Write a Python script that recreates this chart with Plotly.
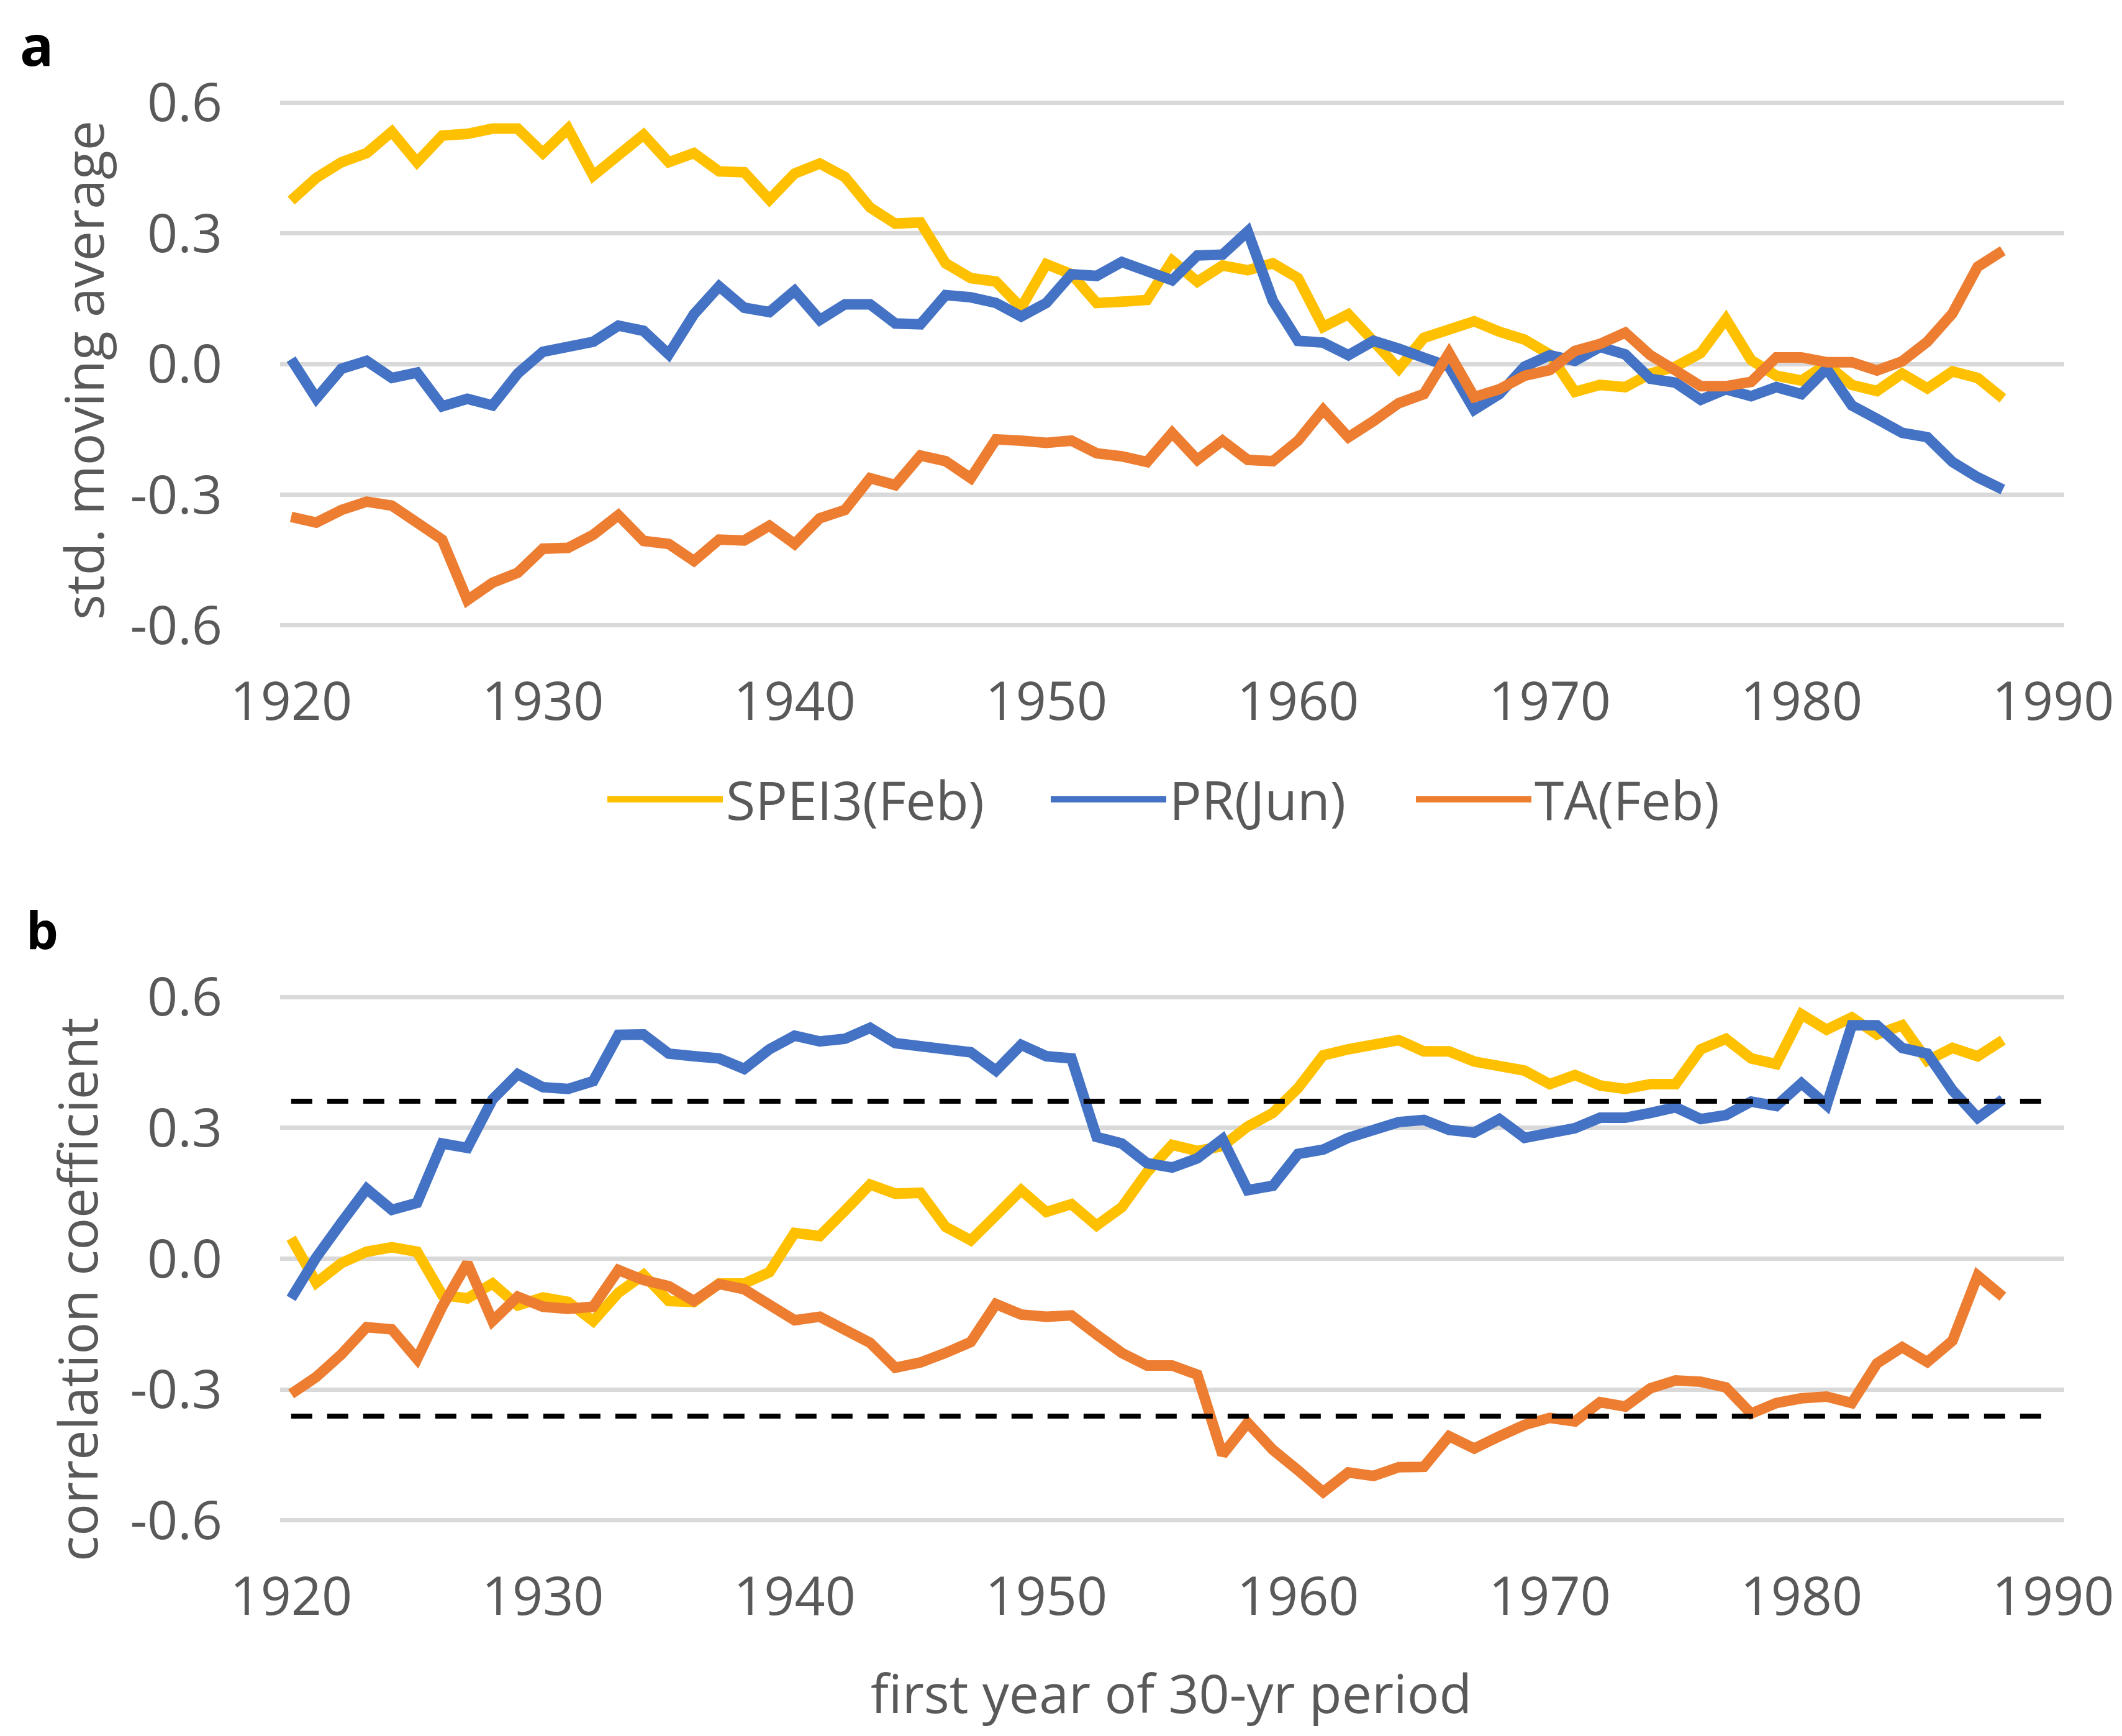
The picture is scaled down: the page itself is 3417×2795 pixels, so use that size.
import plotly.graph_objects as go

# first year of each 30-yr window
years = list(range(1920, 1989))

# panel a: standardised moving averages
spei3_feb_a = [0.375, 0.427, 0.463, 0.484, 0.533, 0.463, 0.524, 0.528, 0.54, 0.54,
               0.484, 0.54, 0.432, 0.479, 0.526, 0.463, 0.484, 0.442, 0.44, 0.377,
               0.437, 0.46, 0.429, 0.359, 0.322, 0.325, 0.231, 0.197, 0.189, 0.129,
               0.229, 0.206, 0.14, 0.143, 0.147, 0.237, 0.189, 0.226, 0.215, 0.231,
               0.197, 0.085, 0.114, 0.052, -0.011, 0.06, 0.08, 0.098, 0.074, 0.056,
               0.022, -0.064, -0.048, -0.053, -0.022, -0.006, 0.025, 0.103, 0.009, -0.027,
               -0.038, -0.001, -0.048, -0.062, -0.022, -0.056, -0.017, -0.032, -0.079]
pr_jun_a = [0.011, -0.079, -0.011, 0.007, -0.032, -0.02, -0.097, -0.08, -0.095, -0.022,
            0.028, 0.039, 0.051, 0.088, 0.076, 0.022, 0.114, 0.178, 0.129, 0.119,
            0.168, 0.101, 0.137, 0.137, 0.093, 0.091, 0.158, 0.153, 0.14, 0.109,
            0.14, 0.206, 0.202, 0.234, 0.213, 0.192, 0.249, 0.251, 0.304, 0.145,
            0.053, 0.049, 0.02, 0.053, 0.035, 0.015, -0.006, -0.105, -0.069, -0.006,
            0.02, 0.007, 0.039, 0.022, -0.034, -0.043, -0.082, -0.058, -0.074, -0.053,
            -0.069, -0.011, -0.095, -0.126, -0.158, -0.168, -0.225, -0.26, -0.288]
ta_feb_a = [-0.351, -0.364, -0.335, -0.316, -0.325, -0.366, -0.403, -0.542, -0.502, -0.479,
            -0.424, -0.422, -0.392, -0.347, -0.406, -0.413, -0.452, -0.403, -0.405, -0.371,
            -0.413, -0.354, -0.335, -0.262, -0.278, -0.21, -0.223, -0.262, -0.173, -0.176,
            -0.181, -0.176, -0.205, -0.212, -0.225, -0.158, -0.22, -0.176, -0.22, -0.223,
            -0.176, -0.105, -0.168, -0.131, -0.09, -0.069, 0.025, -0.076, -0.058, -0.027,
            -0.014, 0.03, 0.046, 0.072, 0.02, -0.015, -0.051, -0.051, -0.041, 0.015,
            0.015, 0.004, 0.004, -0.015, 0.006, 0.051, 0.116, 0.223, 0.26]

# panel b: running correlation coefficients
spei3_feb_b = [0.047, -0.055, -0.01, 0.016, 0.026, 0.016, -0.083, -0.091, -0.057, -0.107,
               -0.089, -0.099, -0.143, -0.078, -0.037, -0.097, -0.099, -0.057, -0.057, -0.031,
               0.059, 0.052, 0.11, 0.17, 0.149, 0.151, 0.073, 0.042, 0.099, 0.157,
               0.107, 0.125, 0.076, 0.118, 0.198, 0.261, 0.247, 0.258, 0.303, 0.334,
               0.391, 0.466, 0.48, 0.49, 0.501, 0.475, 0.475, 0.452, 0.441, 0.431,
               0.4, 0.421, 0.397, 0.389, 0.4, 0.4, 0.48, 0.504, 0.459, 0.446,
               0.56, 0.525, 0.553, 0.514, 0.535, 0.454, 0.483, 0.464, 0.501]
pr_jun_b = [-0.091, 0.003, 0.083, 0.16, 0.112, 0.128, 0.264, 0.254, 0.365, 0.423,
            0.393, 0.389, 0.407, 0.513, 0.514, 0.47, 0.464, 0.459, 0.435, 0.48,
            0.511, 0.498, 0.504, 0.529, 0.494, 0.487, 0.48, 0.473, 0.431, 0.49,
            0.464, 0.459, 0.279, 0.264, 0.219, 0.209, 0.23, 0.274, 0.157, 0.167,
            0.24, 0.25, 0.277, 0.292, 0.313, 0.318, 0.295, 0.289, 0.32, 0.277,
            0.285, 0.299, 0.323, 0.323, 0.334, 0.347, 0.32, 0.329, 0.36, 0.35,
            0.402, 0.352, 0.535, 0.535, 0.483, 0.47, 0.386, 0.323, 0.365]
ta_feb_b = [-0.31, -0.271, -0.219, -0.157, -0.162, -0.23, -0.11, -0.01, -0.143, -0.087,
            -0.11, -0.115, -0.11, -0.026, -0.049, -0.063, -0.097, -0.058, -0.07, -0.104,
            -0.141, -0.133, -0.164, -0.193, -0.25, -0.238, -0.216, -0.191, -0.104, -0.128,
            -0.133, -0.13, -0.174, -0.216, -0.245, -0.245, -0.266, -0.449, -0.376, -0.438,
            -0.485, -0.535, -0.49, -0.498, -0.478, -0.477, -0.407, -0.435, -0.407, -0.381,
            -0.365, -0.373, -0.329, -0.339, -0.297, -0.279, -0.282, -0.295, -0.355, -0.331,
            -0.32, -0.316, -0.331, -0.24, -0.203, -0.237, -0.188, -0.039, -0.087]

# significance threshold (p = 0.05, n = 30)
r_crit = 0.361
crit_x = [1920, 1990]

y_tickvals = [-0.6, -0.3, 0.0, 0.3, 0.6]
y_ticktext = ["-0.6", "-0.3", "0.0", "0.3", "0.6"]
x_tickvals = [1920, 1930, 1940, 1950, 1960, 1970, 1980, 1990]

names = ["SPEI3(Feb)", "PR(Jun)", "TA(Feb)"]
colors = ["#FFC000", "#4472C4", "#ED7D31"]

W, H = 3417, 2795
FONT = "Open Sans"
GREY = "#595959"
LW = 17

fig = go.Figure()

legend_ids = ["legend", "legend2", "legend3"]
for name, col, ya, lg in zip(names, colors, [spei3_feb_a, pr_jun_a, ta_feb_a], legend_ids):
    fig.add_trace(go.Scatter(x=years, y=ya, mode="lines", name=name,
                             line=dict(color=col, width=LW), legend=lg,
                             xaxis="x", yaxis="y"))

for name, col, yb in zip(names, colors, [spei3_feb_b, pr_jun_b, ta_feb_b]):
    fig.add_trace(go.Scatter(x=years, y=yb, mode="lines", name=name,
                             line=dict(color=col, width=LW), showlegend=False,
                             xaxis="x2", yaxis="y2"))

for level in [r_crit, -r_crit]:
    fig.add_trace(go.Scatter(x=crit_x, y=[level, level], mode="lines",
                             line=dict(color="black", width=8, dash="34px,24px"),
                             showlegend=False, hoverinfo="skip",
                             xaxis="x2", yaxis="y2"))

xdom = [443 / W, 3316 / W]
xr = [1919.56, 1990.44]
yr = [-0.61, 0.61]

xcommon = dict(range=xr, domain=xdom, tickvals=x_tickvals, showgrid=False,
               zeroline=False, showline=False, ticks="", ticklabelstandoff=58,
               tickfont=dict(family=FONT, size=86, color=GREY), automargin=False)
ycommon = dict(range=yr, tickvals=y_tickvals, ticktext=y_ticktext,
               showgrid=True, gridcolor="#D9D9D9", gridwidth=7,
               zeroline=False, showline=False, ticks="", ticklabelstandoff=92,
               tickfont=dict(family=FONT, size=86, color=GREY), automargin=False)


def legend_at(px_left):
    return dict(orientation="h", x=(px_left - 14) / W, xanchor="left",
                y=1 - 1279 / H, yanchor="middle",
                font=dict(family=FONT, size=86, color=GREY),
                itemwidth=186, bgcolor="rgba(0,0,0,0)")


fig.update_layout(
    width=W, height=H,
    margin=dict(l=0, r=0, t=0, b=0, autoexpand=False),
    paper_bgcolor="white", plot_bgcolor="white",
    font=dict(family=FONT, size=86, color=GREY),
    xaxis=dict(anchor="y", **xcommon),
    yaxis=dict(anchor="x", domain=[1 - 1006 / H, 1 - 150 / H], **ycommon),
    xaxis2=dict(anchor="y2", **xcommon),
    yaxis2=dict(anchor="x2", domain=[1 - 2447 / H, 1 - 1590 / H], **ycommon),
    legend=legend_at(979),
    legend2=legend_at(1693),
    legend3=legend_at(2281),
    showlegend=True,
)

fig.add_annotation(text="std. moving average", xref="paper", yref="paper",
                   x=125 / W, y=1 - 588 / H, textangle=-90, showarrow=False,
                   xanchor="center", yanchor="middle",
                   font=dict(family=FONT, size=86, color=GREY))
fig.add_annotation(text="correlation coefficient", xref="paper", yref="paper",
                   x=115 / W, y=1 - 2068 / H, textangle=-90, showarrow=False,
                   xanchor="center", yanchor="middle",
                   font=dict(family=FONT, size=86, color=GREY))
fig.add_annotation(text="first year of 30-yr period", xref="paper", yref="paper",
                   x=1878 / W, y=1 - 2716 / H, showarrow=False,
                   xanchor="center", yanchor="middle",
                   font=dict(family=FONT, size=86, color=GREY))
fig.add_annotation(text="<b>a</b>", xref="paper", yref="paper",
                   x=51 / W, y=1, showarrow=False,
                   xanchor="center", yanchor="top",
                   font=dict(family=FONT, size=90, color="black"))
fig.add_annotation(text="<b>b</b>", xref="paper", yref="paper",
                   x=60 / W, y=1 - 1488 / H, showarrow=False,
                   xanchor="center", yanchor="middle",
                   font=dict(family=FONT, size=82, color="black"))

fig.write_html("out.html")
